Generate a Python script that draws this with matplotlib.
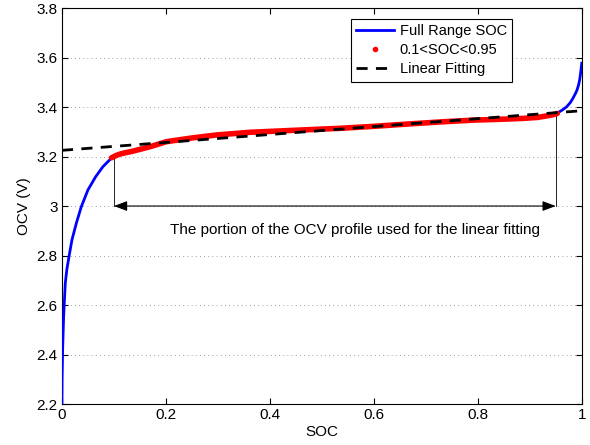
import numpy as np
import matplotlib.pyplot as plt
from matplotlib.lines import Line2D

plt.rcParams['font.family'] = ['Liberation Sans', 'DejaVu Sans']

# Full range OCV curve
soc_full = [0.0, 0.0003, 0.0013, 0.0032, 0.0064, 0.0095, 0.0135, 0.0192, 0.0276,
            0.0372, 0.05, 0.0647, 0.0788, 0.0949, 0.105, 0.115, 0.137, 0.17, 0.201,
            0.25, 0.297, 0.362, 0.458, 0.535, 0.6, 0.663, 0.73, 0.791, 0.85,
            0.887, 0.915, 0.932, 0.945, 0.954, 0.962, 0.971, 0.978, 0.983,
            0.988, 0.991, 0.994, 0.996, 0.998, 1.0]
ocv_full = [2.2, 2.3, 2.42, 2.553, 2.688, 2.745, 2.795, 2.863, 2.93,
            2.997, 3.065, 3.118, 3.159, 3.193, 3.205, 3.212, 3.222, 3.24, 3.26,
            3.275, 3.287, 3.298, 3.307, 3.314, 3.322, 3.331, 3.34, 3.347, 3.351,
            3.354, 3.358, 3.364, 3.369, 3.377, 3.387, 3.401, 3.418, 3.435,
            3.455, 3.469, 3.49, 3.51, 3.54, 3.577]

# portion used for the fit
soc_fit = [0.0955, 0.105, 0.115, 0.137, 0.17, 0.201, 0.25, 0.297, 0.362, 0.458,
           0.535, 0.6, 0.663, 0.73, 0.791, 0.85, 0.887, 0.915, 0.932, 0.945, 0.953]
ocv_fit = [3.195, 3.205, 3.212, 3.222, 3.24, 3.26, 3.275, 3.287, 3.298, 3.307,
           3.314, 3.322, 3.331, 3.34, 3.347, 3.351, 3.354, 3.358, 3.364, 3.369, 3.374]

# linear fitting end points
soc_lin = [0.0, 1.0]
ocv_lin = [3.225, 3.385]

x_ticks = [0, 0.2, 0.4, 0.6, 0.8, 1]
x_labels = ['0', '0.2', '0.4', '0.6', '0.8', '1']
y_ticks = [2.2, 2.4, 2.6, 2.8, 3.0, 3.2, 3.4, 3.6, 3.8]
y_labels = ['2.2', '2.4', '2.6', '2.8', '3', '3.2', '3.4', '3.6', '3.8']

fig = plt.figure(figsize=(5.9, 4.45), dpi=100)
ax = fig.add_axes([0.105, 0.092, 0.881, 0.89])

ax.plot(soc_full, ocv_full, color='blue', lw=2, zorder=3)
ax.plot(soc_fit, ocv_fit, color='red', lw=4, solid_capstyle='round',
        solid_joinstyle='round', zorder=4)
ax.plot(soc_lin, ocv_lin, color='black', lw=2, dashes=(4, 3), zorder=5)

# annotation
ax.plot([0.1, 0.1], [3.0, 3.2], color='black', lw=0.6, zorder=2)
ax.plot([0.95, 0.95], [3.0, 3.375], color='black', lw=0.6, zorder=2)
ax.annotate('', xy=(0.95, 3.0), xytext=(0.1, 3.0),
            arrowprops=dict(arrowstyle='<|-|>,head_length=0.8,head_width=0.3',
                            color='black', lw=0.8, shrinkA=0, shrinkB=0))
ax.text(0.563, 2.903, 'The portion of the OCV profile used for the linear fitting',
        ha='center', va='center', fontsize=11)

ax.set_xlim(0, 1)
ax.set_ylim(2.2, 3.8)
ax.set_xticks(x_ticks)
ax.set_xticklabels(x_labels)
ax.set_yticks(y_ticks)
ax.set_yticklabels(y_labels)
ax.tick_params(direction='in', top=True, right=True, labelsize=11, length=4, pad=3)
ax.yaxis.grid(True, linestyle=(0, (1, 4)), color='gray', lw=0.6)
ax.set_xlabel('SOC', fontsize=11, labelpad=2)
ax.set_ylabel('OCV (V)', fontsize=11)

handles = [Line2D([], [], color='blue', lw=2),
           Line2D([], [], color='red', marker='.', markersize=6, linestyle='none'),
           Line2D([], [], color='black', lw=2, dashes=(4, 3))]
labels = ['Full Range SOC', '0.1<SOC<0.95', 'Linear Fitting']
leg = ax.legend(handles, labels, loc='upper right', bbox_to_anchor=(0.866, 0.972),
                fontsize=10.5, fancybox=False, framealpha=1, edgecolor='black',
                handlelength=2.6, handletextpad=0.4, borderpad=0.35,
                labelspacing=0.35, borderaxespad=0)
leg.get_frame().set_linewidth(0.8)

fig.savefig('out.png', dpi=100)
